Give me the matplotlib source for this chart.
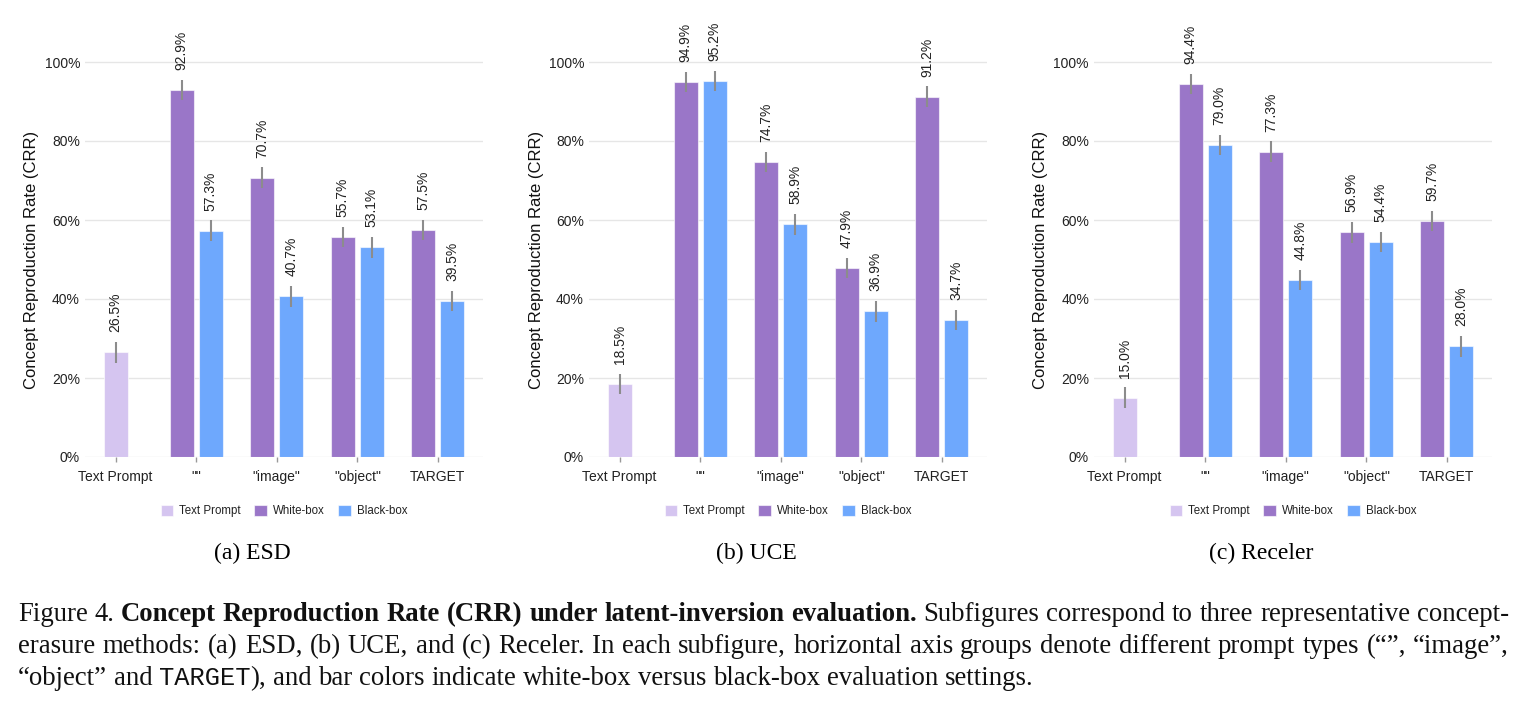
import numpy as np
import matplotlib
matplotlib.use('Agg')
import matplotlib.pyplot as plt
from matplotlib.patches import Patch
from matplotlib.ticker import FuncFormatter

# データ
categories = ['Text Prompt', '""', '"image"', '"object"', 'TARGET']
methods = ['(a) ESD', '(b) UCE', '(c) Receler']
legend_labels = ['Text Prompt', 'White-box', 'Black-box']

text_prompt = [26.5, 18.5, 15.0]
white_box = [
    [92.9, 70.7, 55.7, 57.5],
    [94.9, 74.7, 47.9, 91.2],
    [94.4, 77.3, 56.9, 59.7],
]
black_box = [
    [57.3, 40.7, 53.1, 39.5],
    [95.2, 58.9, 36.9, 34.7],
    [79.0, 44.8, 54.4, 28.0],
]
err_tp = [2.6, 2.6, 2.6]
err_white = [
    [2.6, 2.6, 2.6, 2.6],
    [2.6, 2.6, 2.6, 2.6],
    [2.6, 2.6, 2.6, 2.6],
]
err_black = [
    [2.6, 2.6, 2.6, 2.6],
    [2.6, 2.6, 2.6, 2.6],
    [2.6, 2.6, 2.6, 2.6],
]

c_tp = '#d5c5f0'
c_white = '#9a76c8'
c_black = '#6ea8fd'

W, H = 1516, 709
plt.rcParams['font.family'] = ['Liberation Sans', 'DejaVu Sans']
fig = plt.figure(figsize=(W / 100, H / 100), dpi=100)

ax_left = [85, 589, 1094]
ax_w = 398
y0 = 457          # 0% の位置 (px)
ppu = 3.95        # px / %
ymax = 105

err_kw = dict(ecolor='#8c8c8c', elinewidth=1.5, capsize=0)
edge = (1, 1, 1, 0.6)

for k in range(3):
    ax = fig.add_axes([ax_left[k] / W, (H - y0) / H, ax_w / W, ymax * ppu / H])
    x = np.arange(1, 5)
    ax.bar([0], [text_prompt[k]], 0.3, yerr=[err_tp[k]], color=c_tp,
           edgecolor=edge, linewidth=0.8, error_kw=err_kw, zorder=3)
    ax.bar(x - 0.18, white_box[k], 0.3, yerr=err_white[k], color=c_white,
           edgecolor=edge, linewidth=0.8, error_kw=err_kw, zorder=3)
    ax.bar(x + 0.18, black_box[k], 0.3, yerr=err_black[k], color=c_black,
           edgecolor=edge, linewidth=0.8, error_kw=err_kw, zorder=3)

    pos = [0] + list(x - 0.18) + list(x + 0.18)
    vals = [text_prompt[k]] + white_box[k] + black_box[k]
    errs = [err_tp[k]] + err_white[k] + err_black[k]
    for p, v, e in zip(pos, vals, errs):
        ax.annotate('%.1f%%' % v, (p, v + e), xytext=(0, 7), textcoords='offset points',
                    rotation=90, ha='center', va='bottom', fontsize=10, color='#222222',
                    annotation_clip=False)

    ax.set_xlim(-0.38, 4.56)
    ax.set_ylim(0, ymax)
    ax.set_yticks([0, 20, 40, 60, 80, 100])
    ax.yaxis.set_major_formatter(FuncFormatter(lambda v, _: '%d%%' % v))
    ax.set_xticks(range(5))
    ax.set_xticklabels(categories)
    ax.tick_params(axis='x', length=3.5, width=1, color='#999999', pad=6,
                   labelsize=10, labelcolor='#222222')
    ax.tick_params(axis='y', length=0, pad=3.6, labelsize=10, labelcolor='#222222')
    for s in ax.spines.values():
        s.set_visible(False)
    ax.grid(axis='y', color='#e6e6e6', linewidth=1, zorder=0)
    ax.set_axisbelow(True)

    fig.text((ax_left[k] - 53) / W, 1 - 260 / H, 'Concept Reproduction Rate (CRR)',
             rotation=90, ha='center', va='center', fontsize=12, color='#111111')

    handles = [Patch(facecolor=c, edgecolor=edge, linewidth=0.8) for c in (c_tp, c_white, c_black)]
    ax.legend(handles, legend_labels, loc='center', ncol=3, frameon=False,
              bbox_to_anchor=(0.5, (y0 - 511) / (ymax * ppu)), fontsize=8.3,
              handlelength=1.05, handleheight=1.05, handletextpad=0.55,
              columnspacing=1.2, labelcolor='#222222')

    fig.text((ax_left[k] + 167) / W, 1 - 553 / H, methods[k], ha='center', va='center',
             fontsize=17, family='Liberation Serif')

# キャプション
r = fig.canvas.get_renderer()
cap_fs = 19.3
reg = dict(family='Liberation Serif', fontsize=cap_fs)
bold = dict(family='Liberation Serif', fontsize=cap_fs, weight='bold')
mono = dict(family=['Liberation Mono', 'DejaVu Sans Mono'], fontsize=cap_fs - 1)


def to_words(segs):
    words = [[]]
    for s, kw in segs:
        parts = s.split(' ')
        for i, p in enumerate(parts):
            if i > 0:
                words.append([])
            if p:
                words[-1].append((p, kw))
    return [w for w in words if w]


def put_line(yb, segs, x0=18, x1=None):
    words = to_words(segs)
    arts, widths = [], []
    for w in words:
        pieces = []
        ww = 0
        for t, kw in w:
            a = fig.text(0, 1 - yb / H, t, ha='left', va='baseline', color='#111111', **kw)
            bw = a.get_window_extent(renderer=r).width
            pieces.append((a, bw))
            ww += bw
        arts.append(pieces)
        widths.append(ww)
    if x1 is None:
        gap = 0.25 * cap_fs * 100 / 72
    else:
        gap = (x1 - x0 - sum(widths)) / (len(words) - 1)
    xx = x0
    for pieces in arts:
        for a, bw in pieces:
            a.set_x(xx / W)
            xx += bw
        xx += gap


put_line(621, [('Figure 4. ', reg),
               ('Concept Reproduction Rate (CRR) under latent-inversion evaluation.', bold),
               (' Subfigures correspond to three representative concept-', reg)], x1=1509)
put_line(653, [('erasure methods: (a) ESD, (b) UCE, and (c) Receler. In each subfigure, '
                'horizontal axis groups denote different prompt types (\u201c\u201d, \u201cimage\u201d,', reg)],
         x1=1509)
put_line(685, [('\u201cobject\u201d and ', reg), ('TARGET', mono),
               ('), and bar colors indicate white-box versus black-box evaluation settings.', reg)])

fig.savefig('out.png', dpi=100)
